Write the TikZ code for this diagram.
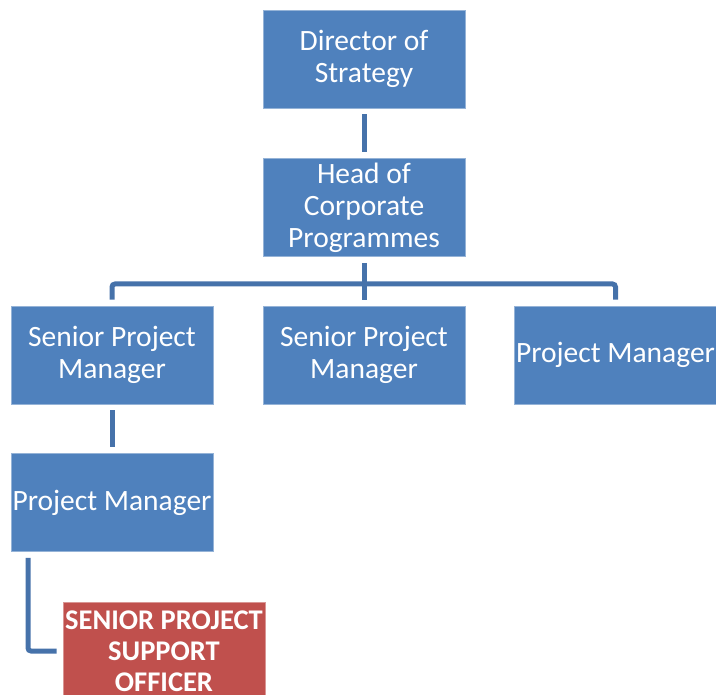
\documentclass[tikz,border=0pt]{standalone}
\usepackage{fontspec}
\setmainfont{Carlito}
\definecolor{boxblue}{HTML}{4F81BD}
\definecolor{linkblue}{HTML}{4672AA}
\definecolor{boxred}{HTML}{C0504D}
\begin{document}
\begin{tikzpicture}[x=1pt,y=-1pt,
  orgbox/.style={rectangle, fill=boxblue, draw=boxblue!60!white, line width=0.8pt,
    minimum width=202pt, minimum height=98pt, inner sep=0pt, text=white, align=center,
    font=\fontsize{29.5}{32}\selectfont},
  redbox/.style={orgbox, fill=boxred, draw=boxred!60!white,
    font=\fontsize{28.5}{31}\selectfont\bfseries},
  link/.style={linkblue, line width=5pt, rounded corners=3pt}]
\clip (0,0) rectangle (716,695);
\useasboundingbox (0,0) rectangle (716,695);
\node[orgbox] (dir) at (364,59) {Director of\\Strategy};
\node[orgbox] (head) at (364,207.5) {Head of\\Corporate\\Programmes};
\node[orgbox] (spm1) at (112,355) {Senior Project\\Manager};
\node[orgbox] (spm2) at (364,355) {Senior Project\\Manager};
\node[orgbox] (pm1) at (615.5,355) {Project Manager};
\node[orgbox] (pm2) at (112,502.5) {Project Manager};
\node[redbox] (spso) at (164,651) {SENIOR PROJECT\\SUPPORT\\OFFICER};
\coordinate (bar) at (364,284);
\coordinate (pmleft) at (28,652);
\draw[link] ([yshift=-6pt]dir.south) -- ([yshift=6pt]head.north);
\draw[link] ([yshift=-6pt]head.south) -- (bar);
\draw[link] ([yshift=6pt]spm1.north) |- (bar) -| ([yshift=6pt]pm1.north);
\draw[link] (bar) -- ([yshift=6pt]spm2.north);
\draw[link] ([yshift=-6pt]spm1.south) -- ([yshift=6pt]pm2.north);
\draw[link] ([yshift=-6pt]pm2.south -| pmleft) |- ([xshift=-6pt]spso.west);
\end{tikzpicture}
\end{document}
